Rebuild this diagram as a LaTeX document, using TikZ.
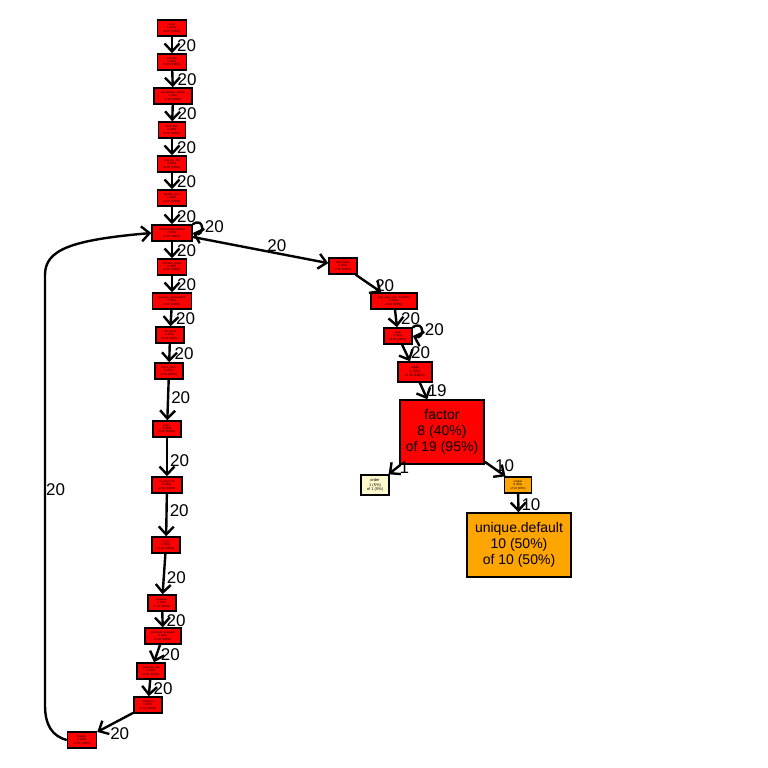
\documentclass[tikz,border=0pt]{standalone}
\usepackage{fontspec}
\setmainfont{Liberation Sans}
\usetikzlibrary{arrows.meta}
\definecolor{gvorange}{RGB}{255,165,0}
\definecolor{gvlemon}{RGB}{255,250,205}

\begin{document}
\begin{tikzpicture}[x=1pt,y=-1pt,
    fn/.style={draw,line width=1.5pt,fill=red,inner sep=0pt,minimum width=29pt,minimum height=16pt,
               align=center,font=\fontsize{2.9}{3.3}\selectfont},
    hot/.style={fn,minimum width=84pt,minimum height=64pt,font=\fontsize{14}{16}\selectfont},
    call/.style={line width=2.4pt,-{Straight Barb[length=8pt,width=15pt,line width=2.4pt]}},
    cnt/.style={font=\fontsize{17}{17}\selectfont,inner sep=1pt,anchor=west}]
    \useasboundingbox (0,0) rectangle (768,768);

    % call chain on the left
    \node[fn] (main) at (172,28) {main\\0 (0\%)\\of 20 (100\%)};
    \node[fn] (execute) at (172,62) {execute\\0 (0\%)\\of 20 (100\%)};
    \node[fn,minimum width=38pt] (render) at (173,96) {rmarkdown::render\\0 (0\%)\\of 20 (100\%)};
    \node[fn,minimum width=27pt] (knit) at (172,130) {knitr::knit\\0 (0\%)\\of 20 (100\%)};
    \node[fn] (procfile) at (172,164) {process\_file\\0 (0\%)\\of 20 (100\%)};
    \node[fn] (handerr) at (172,198) {handle\_error\\0 (0\%)\\of 20 (100\%)};
    \node[fn,minimum width=40pt] (wch) at (172,233) {withCallingHandlers\\0 (0\%)\\of 20 (100\%)};
    \node[fn] (pgroup) at (172,267) {process\_group\\0 (0\%)\\of 20 (100\%)};
    \node[fn,minimum width=39pt] (pblock) at (172,301) {process\_group.block\\0 (0\%)\\of 20 (100\%)};
    \node[fn,minimum width=28pt] (callblock) at (170,335) {call\_block\\0 (0\%)\\of 20 (100\%)};
    \node[fn,minimum width=28pt] (blockexec) at (169,371) {block\_exec\\0 (0\%)\\of 20 (100\%)};
    \node[fn,minimum width=28pt] (engr) at (167,429) {eng\_r\\0 (0\%)\\of 20 (100\%)};
    \node[fn,minimum width=30pt] (indir1) at (167,485) {in\_input\_dir\\0 (0\%)\\of 20 (100\%)};
    \node[fn,minimum width=28pt] (indir) at (166,545) {in\_dir\\0 (0\%)\\of 20 (100\%)};
    \node[fn,minimum width=28pt] (evaluate) at (162,603) {evaluate\\0 (0\%)\\of 20 (100\%)};
    \node[fn,minimum width=36pt] (evalns) at (163,636) {evaluate::evaluate\\0 (0\%)\\of 20 (100\%)};
    \node[fn,minimum width=28pt] (evalcall) at (151,671) {evaluate\_call\\0 (0\%)\\of 20 (100\%)};
    \node[fn,minimum width=28pt] (timing) at (148,705) {timing\_fn\\0 (0\%)\\of 20 (100\%)};
    \node[fn] (handle) at (82,740) {handle\\0 (0\%)\\of 20 (100\%)};

    % branch on the right
    \node[fn,minimum width=28pt] (withvis) at (343,266) {withVisible\\0 (0\%)\\of 20 (100\%)};
    \node[fn,minimum width=46pt] (evaluh) at (394,301) {eval\_with\_user\_handlers\\0 (0\%)\\of 20 (100\%)};
    \node[fn,minimum width=28pt] (eval) at (398,336) {eval\\0 (0\%)\\of 20 (100\%)};
    \node[fn,minimum width=34pt,minimum height=20pt,font=\fontsize{3.4}{4}\selectfont] (table) at (415,372) {table\\1 (5\%)\\of 20 (100\%)};
    \node[hot] (factor) at (442,432) {factor\\8 (40\%)\\of 19 (95\%)};
    \node[fn,fill=gvlemon,minimum width=28pt,minimum height=20pt,font=\fontsize{4}{4.6}\selectfont] (order) at (375,485) {order\\1 (5\%)\\of 1 (5\%)};
    \node[fn,fill=gvorange,minimum width=27pt] (unique) at (518,485) {unique\\0 (0\%)\\of 10 (50\%)};
    \node[hot,fill=gvorange,minimum width=104pt] (udefault) at (519,545) {unique.default\\10 (50\%)\\of 10 (50\%)};

    \draw[call] (main) -- node[cnt,pos=0.55,xshift=3pt] {20} (execute);
    \draw[call] (execute) -- node[cnt,pos=0.55,xshift=3pt] {20} (render);
    \draw[call] (render) -- node[cnt,pos=0.55,xshift=3pt] {20} (knit);
    \draw[call] (knit) -- node[cnt,pos=0.55,xshift=3pt] {20} (procfile);
    \draw[call] (procfile) -- node[cnt,pos=0.55,xshift=3pt] {20} (handerr);
    \draw[call] (handerr) -- node[cnt,pos=0.55,xshift=3pt] {20} (wch);
    \draw[call] (wch) -- node[cnt,pos=0.55,xshift=3pt] {20} (pgroup);
    \draw[call] (pgroup) -- node[cnt,pos=0.55,xshift=3pt] {20} (pblock);
    \draw[call] (pblock) -- node[cnt,pos=0.55,xshift=3pt] {20} (callblock);
    \draw[call] (callblock) -- node[cnt,pos=0.55,xshift=3pt] {20} (blockexec);
    \draw[call] (blockexec) -- node[cnt,pos=0.45,xshift=1pt] {20} (engr);
    \draw[call] (engr) -- node[cnt,pos=0.6,xshift=1pt] {20} (indir1);
    \draw[call] (indir1) -- node[cnt,pos=0.4,xshift=1pt] {20} (indir);
    \draw[call] (indir) -- node[cnt,pos=0.6,xshift=1pt] {20} (evaluate);
    \draw[call] (evaluate) -- node[cnt,pos=0.55,xshift=2pt] {20} (evalns);
    \draw[call] (evalns) -- node[cnt,pos=0.55,xshift=2pt] {20} (evalcall);
    \draw[call] (evalcall) -- node[cnt,pos=0.55,xshift=2pt] {20} (timing);
    \draw[call] (timing) -- node[cnt,pos=0.7,anchor=north west,yshift=1pt] {20} (handle);

    % recursion back into withCallingHandlers
    \draw[call] (handle.west) .. controls (52,736) and (45,725) .. (45,705)
        -- node[cnt,pos=0.5,anchor=west,xshift=-1pt] {20} (45,275)
        .. controls (45,250) and (70,240) .. (wch.west);
    \draw[call] (wch.north east) .. controls +(12,-8) and +(12,4) .. (wch.east)
        node[cnt,pos=0.5,xshift=1pt] {20};

    \draw[call] (wch) -- node[cnt,pos=0.62,anchor=south,yshift=-1pt] {20} (withvis);
    \draw[call] (withvis) -- node[cnt,pos=0.6,xshift=2pt] {20} (evaluh);
    \draw[call] (evaluh) -- node[cnt,pos=0.5,xshift=3pt] {20} (eval);
    \draw[call] (eval.north east) .. controls +(12,-8) and +(12,4) .. (eval.east)
        node[cnt,pos=0.5,xshift=1pt] {20};
    \draw[call] (eval) -- node[cnt,pos=0.5,xshift=3pt] {20} (table);
    \draw[call] (table) -- node[cnt,pos=0.5,xshift=2pt] {19} (factor);
    \draw[call] (factor) -- node[cnt,pos=0.35,xshift=1pt] {1} (order);
    \draw[call] (factor) -- node[cnt,pos=0.3,xshift=2pt] {10} (unique);
    \draw[call] (unique) -- node[cnt,pos=0.6,xshift=1pt] {10} (udefault);
\end{tikzpicture}
\end{document}
